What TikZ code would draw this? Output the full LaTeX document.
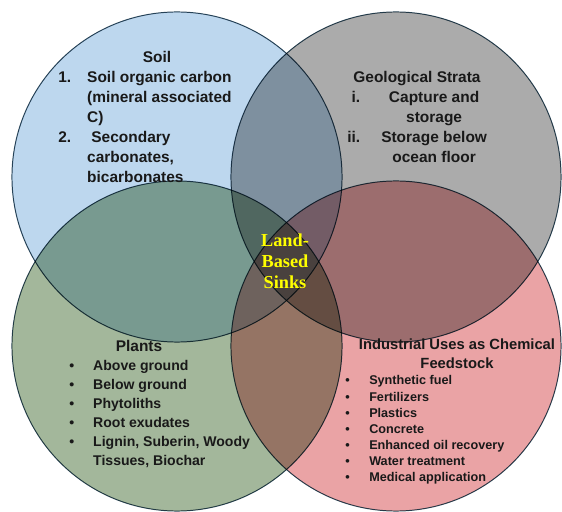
\documentclass[tikz,border=0pt]{standalone}
\usepackage{fontspec}
\newfontfamily\vennfont{Liberation Sans}
\newfontfamily\sinkfont{Liberation Serif}

\definecolor{soilblue}{RGB}{189,215,238}
\definecolor{stratagray}{RGB}{171,171,171}
\definecolor{plantgreen}{RGB}{163,183,155}
\definecolor{industrypink}{RGB}{234,163,165}
\definecolor{vennline}{RGB}{44,72,90}
\definecolor{textdark}{RGB}{25,25,25}
\definecolor{sinkyellow}{RGB}{255,255,0}

\tikzset{
    venn/.style={circle, draw=vennline, line width=0.7pt, minimum size=8.25cm, inner sep=0pt},
    heading/.style={font={\vennfont\bfseries\fontsize{11}{14.2}\selectfont}, text=textdark, inner sep=0pt},
    bigitems/.style={font={\vennfont\bfseries\fontsize{11}{14.2}\selectfont}, text=textdark, inner sep=0pt},
    miditems/.style={font={\vennfont\bfseries\fontsize{10}{13.5}\selectfont}, text=textdark, inner sep=0pt},
    smallitems/.style={font={\vennfont\bfseries\fontsize{9}{11.4}\selectfont}, text=textdark, inner sep=0pt},
}

\begin{document}
\begin{tikzpicture}[x=0.025cm, y=-0.025cm]
    \useasboundingbox (0,0) rectangle (562,512);

    % the four circles, colours multiply where they overlap
    \begin{scope}[blend group=multiply]
        \node[venn, fill=soilblue] (soil) at (177,177) {};
        \node[venn, fill=stratagray] (strata) at (396,177) {};
        \node[venn, fill=plantgreen] (plants) at (177,346) {};
        \node[venn, fill=industrypink] (industry) at (396,346) {};
    \end{scope}

    % soil
    \node[heading, anchor=base] (soilhead) at (157,63) {Soil};
    \node[bigitems, anchor=base west] (soillist) at (58,83) {%
        \begin{tabular}[t]{@{}l@{\hspace{11.4pt}}l@{}}
            1. & Soil organic carbon\\
               & (mineral associated\\
               & C)\\
            2. & \hspace{3pt}Secondary\\
               & carbonates,\\
               & bicarbonates
        \end{tabular}};

    % geological strata
    \node[heading, anchor=base] (stratahead) at (417,83) {Geological Strata};
    \node[bigitems, anchor=base west] (stratalist) at (347,103) {%
        \begin{tabular}[t]{@{}r@{\hspace{15pt}}c@{}}
            i.  & Capture and\\
                & storage\\
            ii. & Storage below\\
                & ocean floor
        \end{tabular}};

    % plants
    \node[heading, anchor=base] (planthead) at (139,352) {Plants};
    \node[miditems, anchor=base west] (plantlist) at (69,371) {%
        \begin{tabular}[t]{@{}l@{\hspace{13.5pt}}l@{}}
            \textbullet & Above ground\\
            \textbullet & Below ground\\
            \textbullet & Phytoliths\\
            \textbullet & Root exudates\\
            \textbullet & Lignin, Suberin, Woody\\
                        & Tissues, Biochar
        \end{tabular}};

    % industrial uses
    \node[heading, anchor=base, font={\vennfont\bfseries\fontsize{10.5}{13.5}\selectfont}] (industryhead) at (457,350) {%
        \begin{tabular}[t]{@{}c@{}}
            Industrial Uses as Chemical\\
            Feedstock
        \end{tabular}};
    \node[smallitems, anchor=base west] (industrylist) at (345,385) {%
        \begin{tabular}[t]{@{}l@{\hspace{13.9pt}}l@{}}
            \textbullet & Synthetic fuel\\
            \textbullet & Fertilizers\\
            \textbullet & Plastics\\
            \textbullet & Concrete\\
            \textbullet & Enhanced oil recovery\\
            \textbullet & Water treatment\\
            \textbullet & Medical application
        \end{tabular}};

    % centre
    \node[anchor=base, inner sep=0pt, text=sinkyellow, font={\sinkfont\bfseries\fontsize{13}{14.6}\selectfont}] (sinks) at (285,247) {%
        \begin{tabular}[t]{@{}c@{}}
            Land-\\
            Based\\
            Sinks
        \end{tabular}};
\end{tikzpicture}
\end{document}
